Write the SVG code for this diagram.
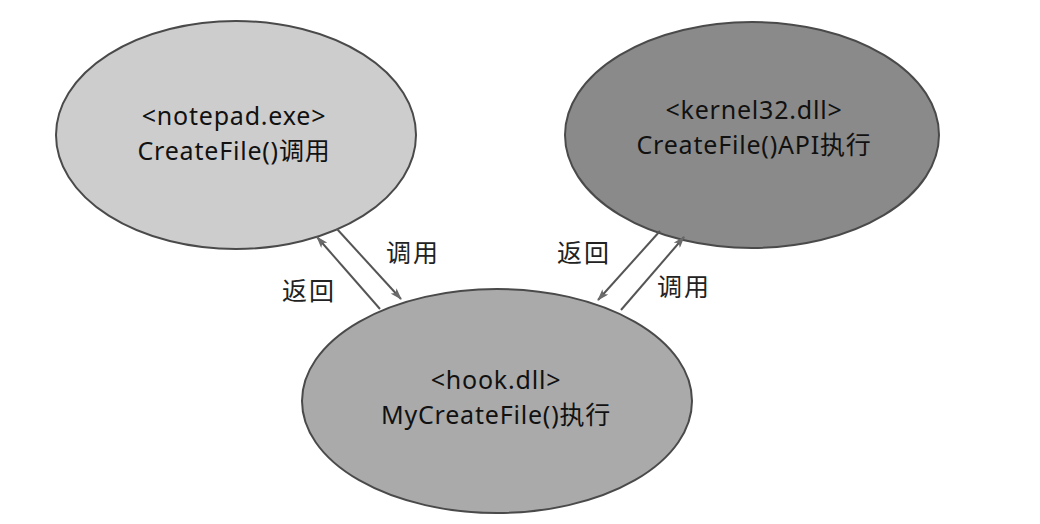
<svg xmlns="http://www.w3.org/2000/svg" width="1040" height="524" viewBox="0 0 1040 524">
  <defs>
    <marker id="arrow" viewBox="0 0 12 8" refX="11" refY="4" markerWidth="12" markerHeight="8" markerUnits="userSpaceOnUse" orient="auto">
      <path d="M0,0 L12,4 L0,8 L3,4 Z" fill="#6a6a6a"/>
    </marker>
  </defs>
  <style>
    .node { stroke: #4a4a4a; stroke-width: 2; }
    .t { font-family: "Noto Sans", "Noto Sans CJK SC", sans-serif; font-size: 25px; letter-spacing: 0.8px; fill: #111; text-anchor: middle; }
    .lbl { font-family: "Noto Sans CJK SC", sans-serif; font-size: 25px; fill: #222; letter-spacing: 2px; }
    .edge { stroke: #555; stroke-width: 2; fill: none; marker-end: url(#arrow); }
  </style>
  <rect width="1040" height="524" fill="#ffffff"/>

  <g id="node-notepad">
    <ellipse class="node" cx="236" cy="135" rx="180" ry="114" fill="#cdcdcd"/>
    <text class="t" x="234" y="125">&lt;notepad.exe&gt;</text>
    <text class="t" x="234" y="160">CreateFile()调用</text>
  </g>

  <g id="node-kernel32">
    <ellipse class="node" cx="752" cy="135" rx="187" ry="113" fill="#8a8a8a"/>
    <text class="t" x="754" y="119">&lt;kernel32.dll&gt;</text>
    <text class="t" x="754" y="154">CreateFile()API执行</text>
  </g>

  <g id="node-hook">
    <ellipse class="node" cx="497" cy="401" rx="195" ry="112" fill="#aaaaaa"/>
    <text class="t" x="496" y="389">&lt;hook.dll&gt;</text>
    <text class="t" x="496" y="424">MyCreateFile()执行</text>
  </g>

  <g id="connectors">
    <line class="edge" x1="380" y1="309" x2="317" y2="237"/>
    <line class="edge" x1="337" y1="229" x2="401" y2="299"/>
    <line class="edge" x1="660" y1="231" x2="598" y2="300"/>
    <line class="edge" x1="621" y1="310" x2="684" y2="237"/>
    <text class="lbl" x="386" y="262">调用</text>
    <text class="lbl" x="282" y="300">返回</text>
    <text class="lbl" x="557" y="262">返回</text>
    <text class="lbl" x="657" y="296">调用</text>
  </g>
</svg>
